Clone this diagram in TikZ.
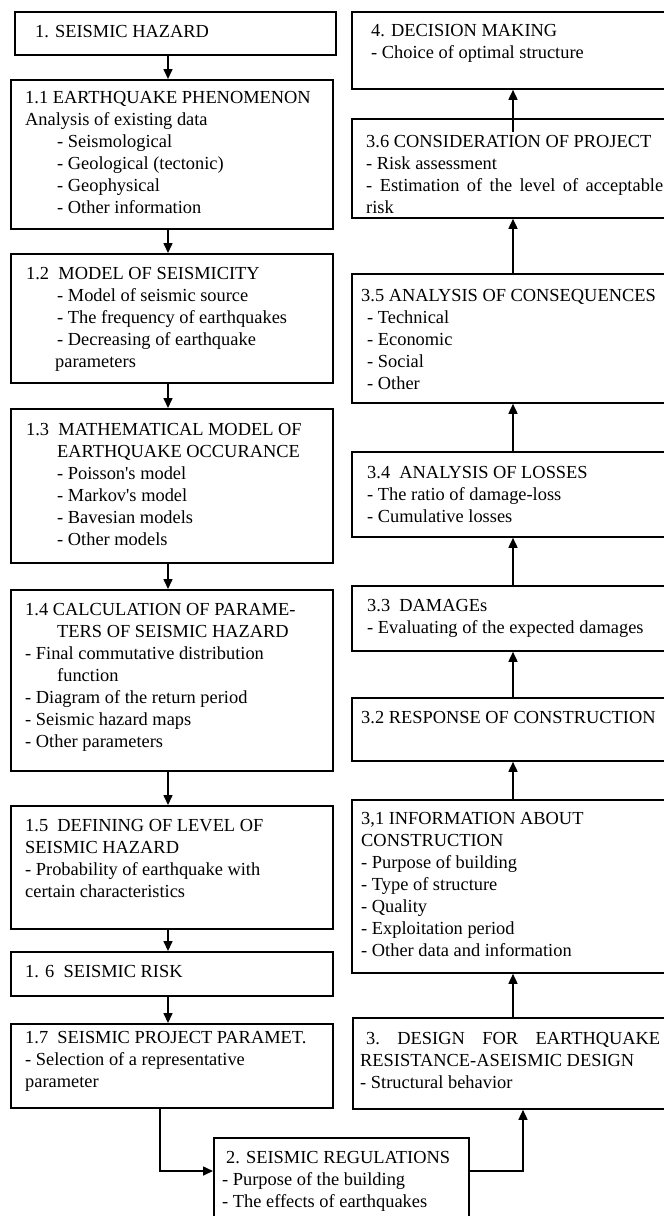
\documentclass[tikz,border=0pt]{standalone}
\usepackage{fontspec}
\setmainfont{Liberation Serif}
\usepackage{tikz}
\usetikzlibrary{arrows.meta,positioning,calc}

\begin{document}
\begin{tikzpicture}[x=1pt,y=-1pt,
  boxstyle/.style={draw,line width=1.8pt,inner sep=0pt,anchor=north west},
  textstyle/.style={inner sep=0pt,anchor=base west,align=left,font=\fontsize{18.4}{22}\selectfont},
  arrowstyle/.style={-{Triangle[length=10pt,width=9pt]},line width=1.6pt}]
\useasboundingbox (0,0) rectangle (664,1216);
% left column
\node[boxstyle,minimum width=321,minimum height=43] (b1) at (14,11) {};
\node[boxstyle,minimum width=322,minimum height=149] (b11) at (10,79) {};
\node[boxstyle,minimum width=322,minimum height=129] (b12) at (10,253) {};
\node[boxstyle,minimum width=322,minimum height=154] (b13) at (10,408) {};
\node[boxstyle,minimum width=322,minimum height=181] (b14) at (10,589) {};
\node[boxstyle,minimum width=322,minimum height=123] (b15) at (10,805) {};
\node[boxstyle,minimum width=322,minimum height=44] (b16) at (10,951) {};
\node[boxstyle,minimum width=322,minimum height=84] (b17) at (10,1023) {};
% bottom
\node[boxstyle,minimum width=255,minimum height=95] (b2) at (213,1137) {};
% right column
\node[boxstyle,minimum width=320,minimum height=91] (b3) at (352,1017) {};
\node[boxstyle,minimum width=320,minimum height=173] (b31) at (351,799) {};
\node[boxstyle,minimum width=320,minimum height=63] (b32) at (351,697) {};
\node[boxstyle,minimum width=320,minimum height=65] (b33) at (351,585) {};
\node[boxstyle,minimum width=320,minimum height=85] (b34) at (351,451) {};
\node[boxstyle,minimum width=320,minimum height=129] (b35) at (351,273) {};
\node[boxstyle,minimum width=320,minimum height=99] (b36) at (351,118) {};
\node[boxstyle,minimum width=320,minimum height=77] (b4) at (351,11) {};

% texts (placed at the baseline of their last line)
\node[textstyle] (t1) at (35,37) {1. SEISMIC HAZARD};
\node[textstyle] (t11) at (25,213) {1.1 EARTHQUAKE PHENOMENON\\Analysis of existing data\\
  \hspace*{32pt}- Seismological\\\hspace*{32pt}- Geological (tectonic)\\
  \hspace*{32pt}- Geophysical\\\hspace*{32pt}- Other information};
\node[textstyle] (t12) at (26,367) {1.2\ \ MODEL OF SEISMICITY\\
  \hspace*{31pt}- Model of seismic source\\\hspace*{31pt}- The frequency of earthquakes\\
  \hspace*{31pt}- Decreasing of earthquake\\\hspace*{29pt}parameters};
\node[textstyle] (t13) at (26,545) {1.3\ \ MATHEMATICAL MODEL OF\\
  \hspace*{31pt}EARTHQUAKE OCCURANCE\\\hspace*{31pt}- Poisson\textquotesingle s model\\
  \hspace*{31pt}- Markov\textquotesingle s model\\\hspace*{31pt}- Bavesian models\\
  \hspace*{31pt}- Other models};
\node[textstyle] (t14) at (25,747) {1.4 CALCULATION OF PARAME-\\
  \hspace*{32pt}TERS OF SEISMIC HAZARD\\- Final commutative distribution\\
  \hspace*{32pt}function\\- Diagram of the return period\\- Seismic hazard maps\\
  - Other parameters};
\node[textstyle] (t15) at (25,897) {1.5\ \ DEFINING OF LEVEL OF\\SEISMIC HAZARD\\
  - Probability of earthquake with\\certain characteristics};
\node[textstyle] (t16) at (25,977) {1. 6\ \ SEISMIC RISK};
\node[textstyle] (t17) at (25,1087) {1.7\ \ SEISMIC PROJECT PARAMET.\\
  - Selection of a representative\\parameter};
\node[textstyle] (t2) at (222,1207) {\hspace*{4pt}2. SEISMIC REGULATIONS\\
  - Purpose of the building\\- The effects of earthquakes};
\node[textstyle] (t3) at (360,1088) {\makebox[300pt][s]{\hspace*{6pt}3.\ \ DESIGN\ \ FOR\ \ EARTHQUAKE}\\
  RESISTANCE-ASEISMIC DESIGN\\- Structural behavior};
\node[textstyle] (t31) at (361,956) {3,1 INFORMATION ABOUT\\CONSTRUCTION\\
  - Purpose of building\\- Type of structure\\- Quality\\- Exploitation period\\
  - Other data and information};
\node[textstyle] (t32) at (361,723) {3.2 RESPONSE OF CONSTRUCTION};
\node[textstyle] (t33) at (367,633) {3.3\ \ DAMAGEs\\- Evaluating of the expected damages};
\node[textstyle] (t34) at (367,522) {3.4\ \ ANALYSIS OF LOSSES\\
  - The ratio of damage-loss\\- Cumulative losses};
\node[textstyle] (t35) at (361,389) {3.5 ANALYSIS OF CONSEQUENCES\\
  \hspace*{6pt}- Technical\\\hspace*{6pt}- Economic\\\hspace*{6pt}- Social\\\hspace*{6pt}- Other};
\node[textstyle] (t36) at (366,213) {3.6 CONSIDERATION OF PROJECT\\- Risk assessment\\
  \makebox[297pt][s]{- Estimation of the level of acceptable}\\risk};
\node[textstyle] (t4) at (371,58) {4. DECISION MAKING\\- Choice of optimal structure};

% connectors
\coordinate (lx) at (168,0);
\coordinate (rx) at (513,0);
\coordinate (jl) at (160,1171);
\coordinate (jr) at (523,1171);
\foreach \a/\b in {b1/b11,b11/b12,b12/b13,b13/b14,b14/b15,b15/b16,b16/b17}
  \draw[arrowstyle] (\a.south -| lx) -- (\b.north -| lx);
\foreach \a/\b in {b3/b31,b31/b32,b32/b33,b33/b34,b34/b35,b35/b36}
  \draw[arrowstyle] (\a.north -| rx) -- (\b.south -| rx);
\draw[arrowstyle] ($(b36.north -| rx)+(0,14)$) -- (b4.south -| rx);
\draw[arrowstyle] (b17.south -| jl) |- (b2.west |- jl);
\draw[arrowstyle] (b2.east |- jr) -| (b3.south -| jr);
\end{tikzpicture}
\end{document}
